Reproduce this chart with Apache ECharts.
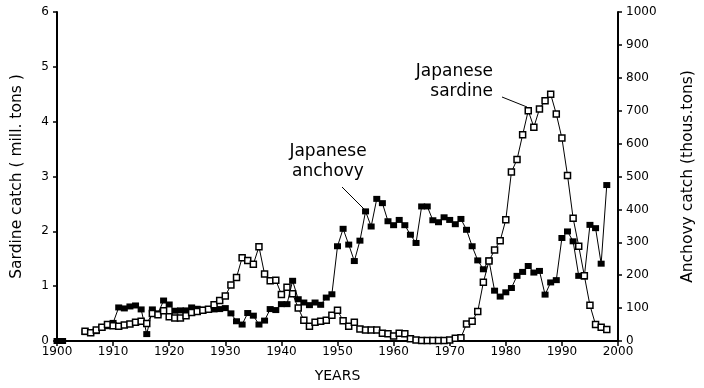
<!DOCTYPE html>
<html>
<head>
<meta charset="utf-8">
<script src="https://cdn.jsdelivr.net/npm/echarts@6/dist/echarts.min.js"></script>
<style>
html,body{margin:0;padding:0;background:#fff;}
#chart{width:704px;height:388px;}
</style>
</head>
<body>
<div id="chart"></div>
<script>
const years = [1900,1901,1902,1903,1904,1905,1906,1907,1908,1909,
  1910,1911,1912,1913,1914,1915,1916,1917,1918,1919,
  1920,1921,1922,1923,1924,1925,1926,1927,1928,1929,
  1930,1931,1932,1933,1934,1935,1936,1937,1938,1939,
  1940,1941,1942,1943,1944,1945,1946,1947,1948,1949,
  1950,1951,1952,1953,1954,1955,1956,1957,1958,1959,
  1960,1961,1962,1963,1964,1965,1966,1967,1968,1969,
  1970,1971,1972,1973,1974,1975,1976,1977,1978,1979,
  1980,1981,1982,1983,1984,1985,1986,1987,1988,1989,
  1990,1991,1992,1993,1994,1995,1996,1997,1998];

// Japanese sardine catch, million tons (left axis)
const sardine = [null,null,null,null,null,0.18,0.15,0.20,0.25,0.30,
  0.28,0.27,0.29,0.31,0.34,0.36,0.32,0.50,0.48,0.55,
  0.44,0.42,0.42,0.46,0.52,0.54,0.56,0.58,0.66,0.74,
  0.82,1.02,1.16,1.52,1.47,1.40,1.72,1.22,1.10,1.11,
  0.85,0.98,0.86,0.60,0.38,0.27,0.34,0.36,0.38,0.47,
  0.56,0.37,0.27,0.34,0.22,0.20,0.20,0.20,0.14,0.13,
  0.09,0.14,0.13,0.04,0.02,0.01,0.01,0.01,0.01,0.01,
  0.02,0.05,0.06,0.31,0.36,0.54,1.07,1.46,1.66,1.83,
  2.21,3.08,3.31,3.76,4.20,3.90,4.23,4.38,4.50,4.14,
  3.70,3.02,2.24,1.73,1.19,0.65,0.30,0.25,0.21];

// Japanese anchovy catch, thousand tons (right axis)
const anchovy = [0,0,null,null,null,27,25,30,40,45,
  55,102,99,105,108,96,21,96,84,123,
  111,92,93,93,102,98,95,95,96,97,
  100,84,60,50,85,77,50,62,97,94,
  112,112,183,127,117,109,117,110,132,142,
  288,341,293,243,305,394,348,432,419,364,
  352,368,352,323,298,409,409,367,361,376,
  368,355,371,338,288,245,218,245,153,135,
  148,161,198,210,228,208,213,141,178,185,
  313,333,303,198,196,353,343,235,474];

const leftTicks = [0,1,2,3,4,5,6];
const rightTicks = [0,100,200,300,400,500,600,700,800,900,1000];

const pairs = (vals) => years.map((y, i) => [y, vals[i]]);

const FONT = 'DejaVu Sans';
const chart = echarts.init(document.getElementById('chart'), null, {renderer: 'canvas'});

const axisLineStyle = {show: true, lineStyle: {color: '#000', width: 2}};

chart.setOption({
  animation: false,
  backgroundColor: '#fff',
  grid: {left: 57, right: 82, top: 12, bottom: 44, containLabel: false},
  xAxis: {
    type: 'value', min: 1900, max: 2000, interval: 10,
    name: 'YEARS', nameLocation: 'middle', nameGap: 28,
    nameTextStyle: {fontFamily: FONT, fontSize: 14, color: '#000'},
    axisLine: axisLineStyle,
    axisTick: {show: true, length: 5, inside: false, lineStyle: {color: '#000', width: 1.5}},
    axisLabel: {fontFamily: FONT, fontSize: 12, color: '#000', margin: 5,
      formatter: v => String(v)},
    splitLine: {show: false}
  },
  yAxis: [
    {
      type: 'value', min: 0, max: 6, interval: 1, position: 'left',
      name: 'Sardine catch ( mill. tons )', nameLocation: 'middle', nameGap: 32, nameRotate: 90,
      nameTextStyle: {fontFamily: FONT, fontSize: 15.5, color: '#000'},
      axisLine: axisLineStyle,
      axisTick: {show: true, length: 4, lineStyle: {color: '#000', width: 1.5}},
      axisLabel: {fontFamily: FONT, fontSize: 12, color: '#000', margin: 8,
        formatter: v => leftTicks.includes(v) ? String(v) : ''},
      splitLine: {show: false}
    },
    {
      type: 'value', min: 0, max: 1000, interval: 100, position: 'right',
      name: 'Anchovy catch (thous.tons)', nameLocation: 'middle', nameGap: 62, nameRotate: 90,
      nameTextStyle: {fontFamily: FONT, fontSize: 15.5, color: '#000'},
      axisLine: axisLineStyle,
      axisTick: {show: true, length: 4, lineStyle: {color: '#000', width: 1.5}},
      axisLabel: {fontFamily: FONT, fontSize: 12, color: '#000', margin: 8,
        formatter: v => rightTicks.includes(v) ? String(v) : ''},
      splitLine: {show: false}
    }
  ],
  series: [
    {
      name: 'Japanese sardine', type: 'line', yAxisIndex: 0,
      data: pairs(sardine), connectNulls: false,
      symbol: 'rect', symbolSize: [6, 6], showAllSymbol: true,
      lineStyle: {color: '#000', width: 1},
      itemStyle: {color: '#fff', borderColor: '#000', borderWidth: 1.5},
      z: 3
    },
    {
      name: 'Japanese anchovy', type: 'line', yAxisIndex: 1,
      data: pairs(anchovy), connectNulls: false,
      symbol: 'rect', symbolSize: [7, 6], showAllSymbol: true,
      lineStyle: {color: '#000', width: 1},
      itemStyle: {color: '#000', borderColor: '#000', borderWidth: 0},
      z: 2
    }
  ],
  graphic: [
    {type: 'text', x: 493, y: 72, style: {text: 'Japanese', fontFamily: FONT, fontSize: 17, fill: '#000', textAlign: 'right', textVerticalAlign: 'middle'}},
    {type: 'text', x: 493, y: 92, style: {text: 'sardine', fontFamily: FONT, fontSize: 17, fill: '#000', textAlign: 'right', textVerticalAlign: 'middle'}},
    {type: 'line', shape: {x1: 502, y1: 97, x2: 527, y2: 107}, style: {stroke: '#000', lineWidth: 1}},
    {type: 'text', x: 328, y: 152, style: {text: 'Japanese', fontFamily: FONT, fontSize: 17, fill: '#000', textAlign: 'center', textVerticalAlign: 'middle'}},
    {type: 'text', x: 328, y: 172, style: {text: 'anchovy', fontFamily: FONT, fontSize: 17, fill: '#000', textAlign: 'center', textVerticalAlign: 'middle'}},
    {type: 'line', shape: {x1: 342, y1: 187, x2: 367, y2: 212}, style: {stroke: '#000', lineWidth: 1}}
  ]
});
</script>
</body>
</html>
